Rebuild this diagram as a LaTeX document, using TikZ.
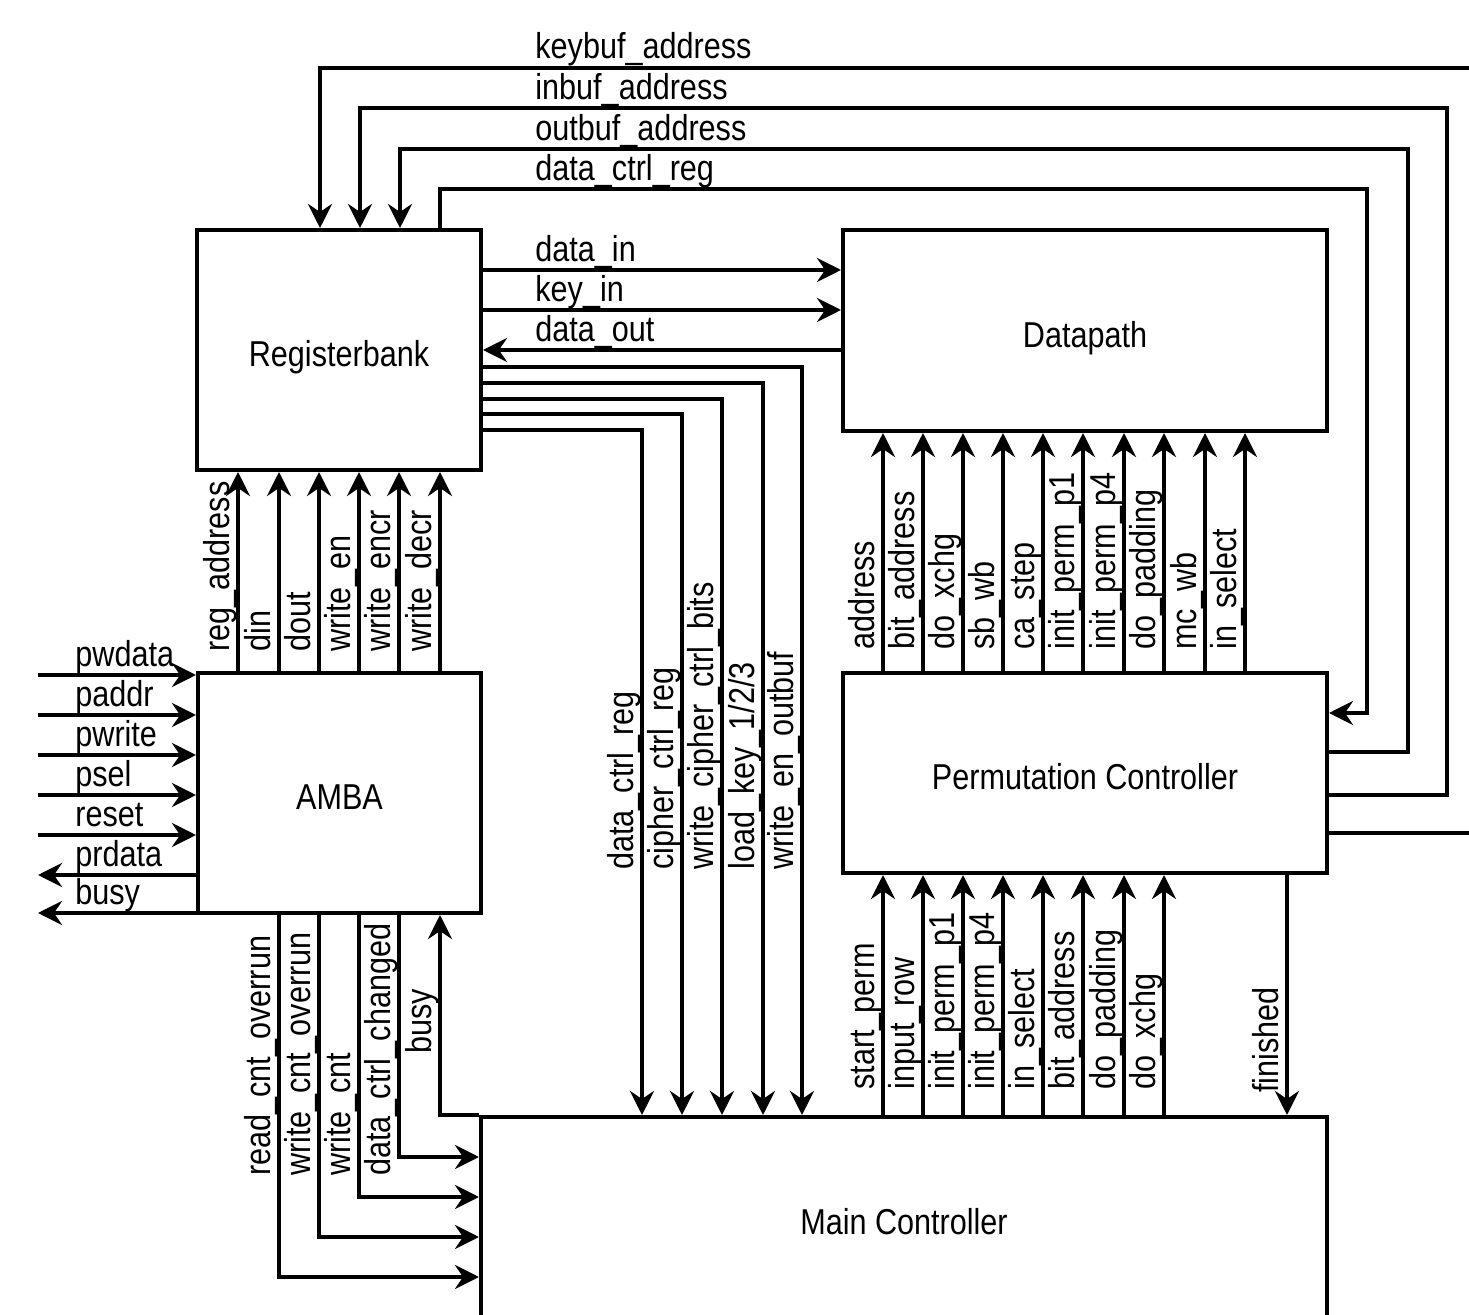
\documentclass[tikz,border=0pt]{standalone}
\usepackage{fontspec}
\setmainfont{Liberation Sans}[FakeStretch=0.85]
\usepackage{tikz}
\usetikzlibrary{arrows.meta,positioning,calc}
\definecolor{ink}{HTML}{000000}
\tikzset{
  blk/.style  ={draw=ink, fill=white, line width=2pt, inner sep=0pt,
                text height=17pt, text depth=0pt,
                align=center, font=\fontsize{18}{21}\selectfont},
  sig/.style  ={-{Stealth[length=12pt,width=12pt,inset=4pt]}, line width=2pt,
                draw=ink},
  hlbl/.style ={anchor=base west, inner sep=0pt, text=ink,
                font=\fontsize{18}{21}\selectfont},
  vlbl/.style ={hlbl, rotate=90},
}

\begin{document}
\begin{tikzpicture}[x=0.5pt,y=-0.5pt]
    \useasboundingbox (0,0) rectangle (1469,1315);
    \clip (0,0) rectangle (1469,1315);

    % blocks
    \node[blk, minimum width=142pt, minimum height=120pt]   (rb)   at (339,350)   {Registerbank};
    \node[blk, minimum width=242pt, minimum height=100.5pt] (dp)   at (1085,330.5) {Datapath};
    \node[blk, minimum width=141.5pt, minimum height=120pt] (amba) at (339.5,793) {AMBA};
    \node[blk, minimum width=242pt, minimum height=100pt]   (pc)   at (1085,773)  {Permutation Controller};
    \node[blk, minimum width=423pt, minimum height=100pt]   (mc)   at (904,1217)  {Main Controller};

    % APB side
    \coordinate (p_pwdata) at (38,675);
    \coordinate (p_paddr)  at (38,715);
    \coordinate (p_pwrite) at (38,755);
    \coordinate (p_psel)   at (38,795);
    \coordinate (p_reset)  at (38,835);
    \coordinate (p_prdata) at (38,875);
    \coordinate (p_busy)   at (38,913);
    \draw[sig] (p_pwdata) -- (amba.west |- p_pwdata);
    \draw[sig] (p_paddr)  -- (amba.west |- p_paddr);
    \draw[sig] (p_pwrite) -- (amba.west |- p_pwrite);
    \draw[sig] (p_psel)   -- (amba.west |- p_psel);
    \draw[sig] (p_reset)  -- (amba.west |- p_reset);
    \draw[sig] (amba.west |- p_prdata) -- (p_prdata);
    \draw[sig] (amba.west |- p_busy)   -- (p_busy);
    \node[hlbl] (l_pwdata) at (75,667) {pwdata};
    \node[hlbl] (l_paddr)  at (75,707) {paddr};
    \node[hlbl] (l_pwrite) at (75,747) {pwrite};
    \node[hlbl] (l_psel)   at (75,787) {psel};
    \node[hlbl] (l_reset)  at (75,827) {reset};
    \node[hlbl] (l_prdata) at (75,867) {prdata};
    \node[hlbl] (l_busy)   at (75,905) {busy};

    % AMBA -> Registerbank
    \draw[sig] (amba.north -| 238,0) -- (rb.south -| 238,0);
    \draw[sig] (amba.north -| 279,0) -- (rb.south -| 279,0);
    \draw[sig] (amba.north -| 319,0) -- (rb.south -| 319,0);
    \draw[sig] (amba.north -| 359,0) -- (rb.south -| 359,0);
    \draw[sig] (amba.north -| 399,0) -- (rb.south -| 399,0);
    \draw[sig] (amba.north -| 440,0) -- (rb.south -| 440,0);
    \node[vlbl] (l_regaddr) at (229,652) {reg\_address};
    \node[vlbl] (l_din)     at (270,652) {din};
    \node[vlbl] (l_dout)    at (310,652) {dout};
    \node[vlbl] (l_wen)     at (350,652) {write\_en};
    \node[vlbl] (l_wencr)   at (390,652) {write\_encr};
    \node[vlbl] (l_wdecr)   at (431,652) {write\_decr};

    % address buses round the top
    \draw[sig] (pc.east |- 0,833) -- (1500,833) -- (1500,68) -- (320,68) -- (rb.north -| 320,0);
    \draw[sig] (pc.east |- 0,795) -| (1447,108) -| (rb.north -| 360,0);
    \draw[sig] (pc.east |- 0,752) -| (1408,149) -| (rb.north -| 400,0);
    \draw[sig] (rb.north -| 440,0) |- (1367,189) |- (pc.east |- 0,713);
    \node[hlbl] (l_keybuf)  at (535,59)  {keybuf\_address};
    \node[hlbl] (l_inbuf)   at (535,100) {inbuf\_address};
    \node[hlbl] (l_outbuf)  at (535,141) {outbuf\_address};
    \node[hlbl] (l_dctrl)   at (535,181) {data\_ctrl\_reg};

    % Registerbank <-> Datapath
    \draw[sig] (rb.east |- 0,270) -- (dp.west |- 0,270);
    \draw[sig] (rb.east |- 0,310) -- (dp.west |- 0,310);
    \draw[sig] (dp.west |- 0,350) -- (rb.east |- 0,350);
    \node[hlbl] (l_datain)  at (535,262) {data\_in};
    \node[hlbl] (l_keyin)   at (535,302) {key\_in};
    \node[hlbl] (l_dataout) at (535,342) {data\_out};

    % Registerbank -> Main Controller
    \draw[sig] (rb.east |- 0,367) -| (mc.north -| 802,0);
    \draw[sig] (rb.east |- 0,383) -| (mc.north -| 763,0);
    \draw[sig] (rb.east |- 0,399) -| (mc.north -| 722,0);
    \draw[sig] (rb.east |- 0,414) -| (mc.north -| 682,0);
    \draw[sig] (rb.east |- 0,430) -| (mc.north -| 642,0);
    \node[vlbl] (l_mdctrl)  at (633,870) {data\_ctrl\_reg};
    \node[vlbl] (l_mcctrl)  at (673,870) {cipher\_ctrl\_reg};
    \node[vlbl] (l_mwcc)    at (713,870) {write\_cipher\_ctrl\_bits};
    \node[vlbl] (l_mload)   at (754,870) {load\_key\_1/2/3};
    \node[vlbl] (l_mwout)   at (793,870) {write\_en\_outbuf};

    % Permutation Controller -> Datapath
    \draw[sig] (pc.north -| 883,0)  -- (dp.south -| 883,0);
    \draw[sig] (pc.north -| 923,0)  -- (dp.south -| 923,0);
    \draw[sig] (pc.north -| 963,0)  -- (dp.south -| 963,0);
    \draw[sig] (pc.north -| 1003,0) -- (dp.south -| 1003,0);
    \draw[sig] (pc.north -| 1043,0) -- (dp.south -| 1043,0);
    \draw[sig] (pc.north -| 1083,0) -- (dp.south -| 1083,0);
    \draw[sig] (pc.north -| 1124,0) -- (dp.south -| 1124,0);
    \draw[sig] (pc.north -| 1164,0) -- (dp.south -| 1164,0);
    \draw[sig] (pc.north -| 1205,0) -- (dp.south -| 1205,0);
    \draw[sig] (pc.north -| 1245,0) -- (dp.south -| 1245,0);
    \node[vlbl] (l_addr)    at (874,650)  {address};
    \node[vlbl] (l_bitaddr) at (914,650)  {bit\_address};
    \node[vlbl] (l_xchg)    at (954,650)  {do\_xchg};
    \node[vlbl] (l_sbwb)    at (994,650)  {sb\_wb};
    \node[vlbl] (l_castep)  at (1034,650) {ca\_step};
    \node[vlbl] (l_ip1)     at (1074,650) {init\_perm\_p1};
    \node[vlbl] (l_ip4)     at (1115,650) {init\_perm\_p4};
    \node[vlbl] (l_pad)     at (1155,650) {do\_padding};
    \node[vlbl] (l_mcwb)    at (1196,650) {mc\_wb};
    \node[vlbl] (l_insel)   at (1236,650) {in\_select};

    % Main Controller <-> Permutation Controller
    \draw[sig] (mc.north -| 883,0)  -- (pc.south -| 883,0);
    \draw[sig] (mc.north -| 923,0)  -- (pc.south -| 923,0);
    \draw[sig] (mc.north -| 963,0)  -- (pc.south -| 963,0);
    \draw[sig] (mc.north -| 1003,0) -- (pc.south -| 1003,0);
    \draw[sig] (mc.north -| 1043,0) -- (pc.south -| 1043,0);
    \draw[sig] (mc.north -| 1083,0) -- (pc.south -| 1083,0);
    \draw[sig] (mc.north -| 1124,0) -- (pc.south -| 1124,0);
    \draw[sig] (mc.north -| 1164,0) -- (pc.south -| 1164,0);
    \draw[sig] (pc.south -| 1287,0) -- (mc.north -| 1287,0);
    \node[vlbl] (l_start)   at (874,1090)  {start\_perm};
    \node[vlbl] (l_inrow)   at (914,1090)  {input\_row};
    \node[vlbl] (l_pip1)    at (954,1090)  {init\_perm\_p1};
    \node[vlbl] (l_pip4)    at (994,1090)  {init\_perm\_p4};
    \node[vlbl] (l_pinsel)  at (1034,1090) {in\_select};
    \node[vlbl] (l_pbit)    at (1074,1090) {bit\_address};
    \node[vlbl] (l_ppad)    at (1115,1090) {do\_padding};
    \node[vlbl] (l_pxchg)   at (1155,1090) {do\_xchg};
    \node[vlbl] (l_fin)     at (1278,1093) {finished};

    % AMBA <-> Main Controller
    \draw[sig] (amba.south -| 279,0) |- (mc.west |- 0,1277);
    \draw[sig] (amba.south -| 319,0) |- (mc.west |- 0,1237);
    \draw[sig] (amba.south -| 359,0) |- (mc.west |- 0,1197);
    \draw[sig] (amba.south -| 399,0) |- (mc.west |- 0,1157);
    \draw[sig] (mc.north west) -| (amba.south -| 440,0);
    \node[vlbl] (l_rcnt)    at (270,1176) {read\_cnt\_overrun};
    \node[vlbl] (l_wcnto)   at (310,1176) {write\_cnt\_overrun};
    \node[vlbl] (l_wcnt)    at (350,1176) {write\_cnt};
    \node[vlbl] (l_dchg)    at (390,1176) {data\_ctrl\_changed};
    \node[vlbl] (l_mbusy)   at (431,1054) {busy};
\end{tikzpicture}
\end{document}
